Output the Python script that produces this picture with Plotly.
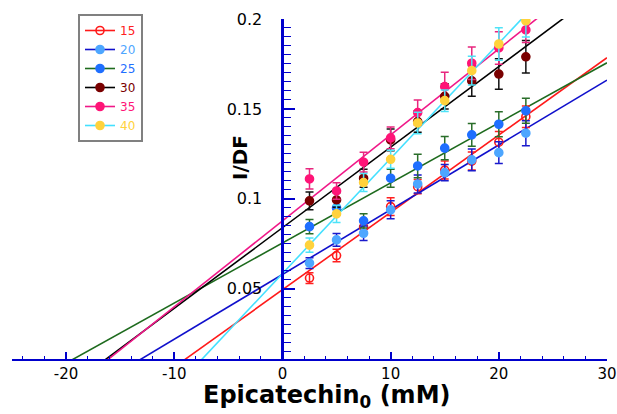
import plotly.graph_objects as go

# ---------------- data ----------------
conc = [2.5, 5, 7.5, 10, 12.5, 15, 17.5, 20, 22.5]
series_names = ["15", "20", "25", "30", "35", "40"]

y15 = [0.056, 0.0685, 0.0843, 0.0957, 0.1068, 0.116, 0.121, 0.1315, 0.1457]
y20 = [0.0643, 0.0772, 0.0809, 0.0939, 0.1083, 0.1146, 0.1217, 0.1257, 0.1365]
y25 = [0.0846, 0.095, 0.0878, 0.1115, 0.1183, 0.1282, 0.1356, 0.1415, 0.149]
y30 = [0.0989, 0.0994, 0.1115, 0.1328, 0.143, 0.157, 0.1656, 0.1694, 0.179]
y35 = [0.1111, 0.1044, 0.1204, 0.1339, 0.148, 0.1624, 0.1754, 0.1839, 0.1939]
y40 = [0.0743, 0.0917, 0.1091, 0.122, 0.1422, 0.1546, 0.1713, 0.1861, 0.199]

e15 = [0.003, 0.0035, 0.0035, 0.005, 0.004, 0.005, 0.005, 0.006, 0.006]
e20 = [0.003, 0.0035, 0.004, 0.005, 0.005, 0.0045, 0.006, 0.006, 0.007]
e25 = [0.004, 0.004, 0.004, 0.005, 0.0065, 0.0065, 0.0063, 0.007, 0.007]
e30 = [0.005, 0.004, 0.005, 0.006, 0.006, 0.007, 0.0085, 0.0085, 0.009]
e35 = [0.0056, 0.0046, 0.0055, 0.006, 0.007, 0.008, 0.009, 0.009, 0.007]
e40 = [0.004, 0.0048, 0.005, 0.005, 0.006, 0.006, 0.008, 0.009, 0.009]

# fitted straight lines: y = intercept + slope * x
fit_intercept = [0.0495, 0.058, 0.0755, 0.084, 0.0878, 0.0585]
fit_slope = [0.0043, 0.0036, 0.00334, 0.00448, 0.00478, 0.0064]
fit_x = [-25, 30]

x_tickvals = [-20, -10, 0, 10, 20, 30]
x_ticktext = ["-20", "-10", "0", "10", "20", "30"]
y_tickvals = [0.05, 0.1, 0.15, 0.2]
y_ticktext = ["0.05", "0.1", "0.15", "0.2"]

# ---------------- styles ----------------
ys = [y15, y20, y25, y30, y35, y40]
es = [e15, e20, e25, e30, e35, e40]
line_colors = ["#ff1a1a", "#1010cc", "#1e6b1e", "#000000", "#f01888", "#44e0ff"]
marker_colors = ["#ff1a1a", "#4da6ff", "#1f6fff", "#7a0000", "#ff1477", "#ffd23c"]
err_colors = ["#ff2020", "#1a1acc", "#2a6e2a", "#111111", "#e8267e", "#4fe3f7"]
text_colors = ["#ff2020", "#4da6ff", "#1f6fff", "#7a0000", "#ff1477", "#ffd23c"]
symbols = ["circle-open", "circle", "circle", "circle", "circle", "circle"]

AXIS_BLUE = "#0000cc"
FONT = "DejaVu Sans"

fig = go.Figure()

# fitted lines
for i in range(len(series_names)):
    fy = [fit_intercept[i] + fit_slope[i] * xv for xv in fit_x]
    fig.add_trace(go.Scatter(
        x=fit_x, y=fy, mode="lines",
        line=dict(color=line_colors[i], width=1.6),
        showlegend=False, hoverinfo="skip"))

# data points with error bars
for i in range(len(series_names)):
    fig.add_trace(go.Scatter(
        x=conc, y=ys[i], mode="markers",
        marker=dict(symbol=symbols[i], size=8, color=marker_colors[i],
                    line=dict(width=1.6, color=marker_colors[i])),
        error_y=dict(type="data", array=es[i], visible=True,
                     color=err_colors[i], thickness=1.5, width=4),
        showlegend=False))

# legend entries
for i in range(len(series_names)):
    fig.add_trace(go.Scatter(
        x=[None], y=[None], mode="lines+markers",
        name="<span style='color:%s'>%s</span>" % (text_colors[i], series_names[i]),
        line=dict(color=line_colors[i], width=1.6),
        marker=dict(symbol=symbols[i], size=8, color=marker_colors[i],
                    line=dict(width=1.6, color=marker_colors[i]))))

fig.update_layout(
    width=617, height=414,
    margin=dict(l=12, r=10, t=19, b=55, autoexpand=False),
    paper_bgcolor="white", plot_bgcolor="white",
    font=dict(family=FONT, color="black"),
    legend=dict(x=(78 - 12) / 595, y=1 + 5 / 340, xanchor="left", yanchor="top",
                bgcolor="white", bordercolor="#808080", borderwidth=2,
                font=dict(family=FONT, size=12), traceorder="normal",
                tracegroupgap=0),
    xaxis=dict(range=[-25, 30], tickvals=x_tickvals, ticktext=x_ticktext,
               ticks="inside", ticklen=7, tickwidth=1.5, tickcolor=AXIS_BLUE,
               showline=True, linecolor=AXIS_BLUE, linewidth=2,
               showgrid=False, zeroline=False, automargin=False,
               ticklabelstandoff=0,
               tickfont=dict(family=FONT, size=15, color="black"),
               minor=dict(dtick=2, tick0=0, ticks="inside", ticklen=3.5,
                          tickwidth=1, tickcolor=AXIS_BLUE)),
    yaxis=dict(range=[0.011, 0.2], anchor="free", position=25 / 55,
               tickvals=y_tickvals, ticktext=y_ticktext,
               ticks="inside", ticklen=11, tickwidth=1.5, tickcolor=AXIS_BLUE,
               showline=True, linecolor=AXIS_BLUE, linewidth=3,
               showgrid=False, zeroline=False, ticklabelstandoff=16,
               automargin=False,
               tickfont=dict(family=FONT, size=16, color="black"),
               minor=dict(dtick=0.005, tick0=0, ticks="inside", ticklen=7,
                          tickwidth=1, tickcolor=AXIS_BLUE)),
    annotations=[
        dict(text="<b>I/DF</b>", xref="paper", yref="paper",
             x=(240 - 12) / 595, y=1 - (158 - 19) / 340, textangle=-90,
             showarrow=False, xanchor="center", yanchor="middle",
             font=dict(family=FONT, size=20, color="black")),
        dict(text="<b>Epicatechin<sub>0</sub> (mM)</b>", xref="paper", yref="paper",
             x=(326 - 12) / 595, y=-(414 - 359) / 340,
             showarrow=False, xanchor="center", yanchor="bottom",
             font=dict(family=FONT, size=24, color="black")),
    ],
)

fig.write_html("out.html",
               config={"displayModeBar": False},
               post_script="document.body.style.margin='0';"
                           "document.body.style.padding='0';")
